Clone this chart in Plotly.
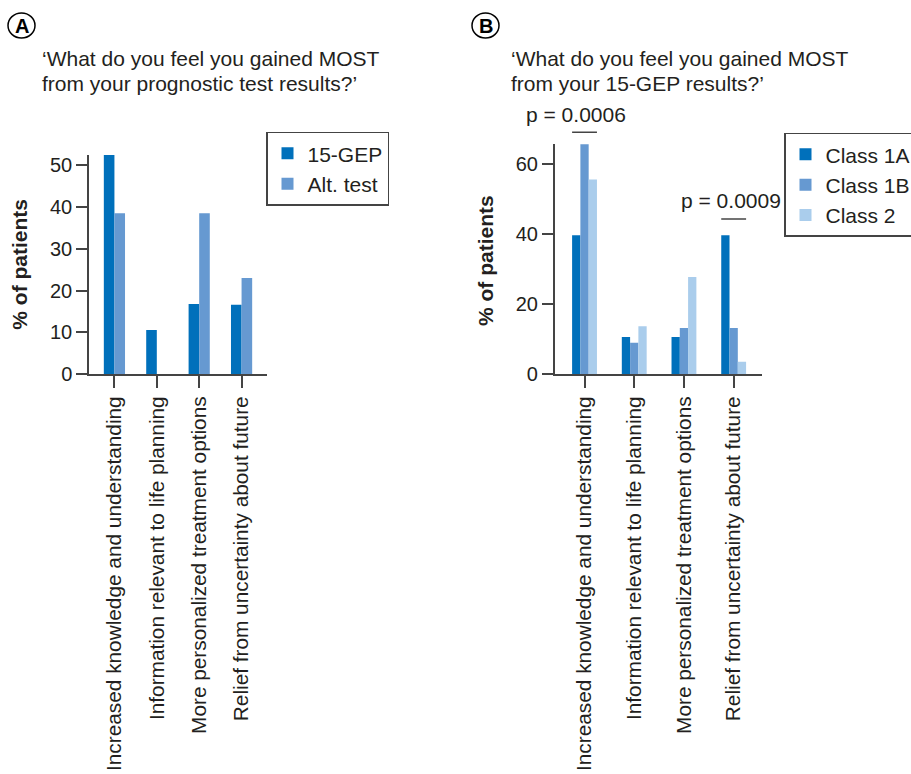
import plotly.graph_objects as go

# ---- data ----
categories = [
    "Increased knowledge and understanding",
    "Information relevant to life planning",
    "More personalized treatment options",
    "Relief from uncertainty about future",
]
# Panel A
gep15 = [52.4, 10.6, 16.8, 16.6]
alt_test = [38.5, 0, 38.5, 23.0]
# Panel B
class_1a = [39.6, 10.6, 10.6, 39.6]
class_1b = [65.5, 9.0, 13.2, 13.2]
class_2 = [55.5, 13.7, 27.7, 3.6]

title_a = ["\u2018What do you feel you gained MOST", "from your prognostic test results?\u2019"]
title_b = ["\u2018What do you feel you gained MOST", "from your 15-GEP results?\u2019"]
p_labels = ["p = 0.0006", "p = 0.0009"]
p_cats = [0, 3]

C_DARK = "#0070BB"
C_MID = "#6699D1"
C_LIGHT = "#AACDEC"
AX = "#444444"
TXT = "#231f20"
FONT = "Liberation Sans, Arial, Helvetica, sans-serif"

W, H = 911, 774


def px(x):
    return x / W


def py(y):
    return 1 - y / H


fig = go.Figure()

fig.add_trace(go.Bar(x=categories, y=gep15, name="15-GEP", marker=dict(color=C_DARK, line=dict(width=0)),
                     xaxis="x", yaxis="y", legend="legend"))
fig.add_trace(go.Bar(x=categories, y=alt_test, name="Alt. test", marker=dict(color=C_MID, line=dict(width=0)),
                     xaxis="x", yaxis="y", legend="legend"))

fig.add_trace(go.Bar(x=categories, y=class_1a, name="Class 1A", marker=dict(color=C_DARK, line=dict(width=0)),
                     xaxis="x2", yaxis="y2", legend="legend2"))
fig.add_trace(go.Bar(x=categories, y=class_1b, name="Class 1B", marker=dict(color=C_MID, line=dict(width=0)),
                     xaxis="x2", yaxis="y2", legend="legend2"))
fig.add_trace(go.Bar(x=categories, y=class_2, name="Class 2", marker=dict(color=C_LIGHT, line=dict(width=0)),
                     xaxis="x2", yaxis="y2", legend="legend2"))

xcommon = dict(showline=True, linecolor=AX, linewidth=1.5, ticks="outside", ticklen=12,
               tickwidth=1.5, tickcolor=AX, tickangle=-90, tickfont=dict(size=20.8, color=TXT, family=FONT),
               showgrid=False, zeroline=False, fixedrange=True)
ycommon = dict(showline=True, linecolor=AX, linewidth=1.5, ticks="outside", ticklen=11,
               tickwidth=1.5, tickcolor=AX, tickfont=dict(size=20, color=TXT, family=FONT),
               showgrid=False, zeroline=False, fixedrange=True)

legcommon = dict(xanchor="left", yanchor="top", bordercolor=AX, borderwidth=1.5, bgcolor="white",
                 font=dict(size=21, color=TXT, family=FONT), tracegroupgap=0, itemwidth=30,
                 traceorder="normal")

annotations = []
shapes = []

# panel letters
for letter, (cx0, cx1) in zip(["A", "B"], [(8, 35), (472, 499)]):
    shapes.append(dict(type="circle", xref="paper", yref="paper", x0=px(cx0), x1=px(cx1),
                       y0=py(38), y1=py(13), line=dict(color="black", width=1.5)))
    annotations.append(dict(text="<b>%s</b>" % letter, xref="paper", yref="paper",
                            x=px((cx0 + cx1) / 2), y=py(25.5), xanchor="center", yanchor="middle",
                            showarrow=False, font=dict(size=20, color="black", family=FONT)))

# titles
for lines, x0 in [(title_a, 40), (title_b, 509)]:
    for line, yc in zip(lines, [59, 84]):
        annotations.append(dict(text=line, xref="paper", yref="paper", x=px(x0), y=py(yc),
                                xanchor="left", yanchor="middle", showarrow=False,
                                font=dict(size=21, color=TXT, family=FONT)))

# y-axis titles
for xc, yc in [(20, 264.7), (485, 260)]:
    annotations.append(dict(text="<b>% of patients</b>", xref="paper", yref="paper", x=px(xc), y=py(yc),
                            xanchor="center", yanchor="middle", textangle=-90, showarrow=False,
                            font=dict(size=21, color=TXT, family=FONT)))

# p-values
for lab, cat, line_y, text_y, shift in zip(p_labels, p_cats, [132.3, 219], [114, 200.5], [-9, -3]):
    shapes.append(dict(type="line", xref="x2", yref="paper", x0=cat - 0.25, x1=cat + 0.25,
                       y0=py(line_y), y1=py(line_y), line=dict(color=AX, width=1.5)))
    annotations.append(dict(text=lab, xref="x2", yref="paper", x=cat, y=py(text_y), xshift=shift,
                            xanchor="center", yanchor="middle", showarrow=False,
                            font=dict(size=21, color=TXT, family=FONT)))

fig.update_layout(
    width=W, height=H,
    margin=dict(l=0, r=0, t=0, b=0, autoexpand=False),
    paper_bgcolor="white", plot_bgcolor="white",
    font=dict(family=FONT, color=TXT),
    barmode="group", bargap=0.5, bargroupgap=0,
    xaxis=dict(domain=[px(89), px(267)], range=[-0.6, 3.6], anchor="y", **xcommon),
    yaxis=dict(domain=[py(374.3), py(155)], range=[0, 52.4], dtick=10, anchor="x", **ycommon),
    xaxis2=dict(domain=[px(554.7), px(762)], range=[-0.6, 3.57], anchor="y2", **xcommon),
    yaxis2=dict(domain=[py(374.3), py(144)], range=[0, 65.6], dtick=20, anchor="x2", **ycommon),
    legend=dict(x=px(266), y=py(131.7), **legcommon),
    legend2=dict(x=px(784), y=py(132.7), **legcommon),
    annotations=annotations,
    shapes=shapes,
    showlegend=True,
)

fig.write_html("out.html", config={"displayModeBar": False},
               post_script="document.body.style.margin='0px';document.body.style.padding='0px';")
